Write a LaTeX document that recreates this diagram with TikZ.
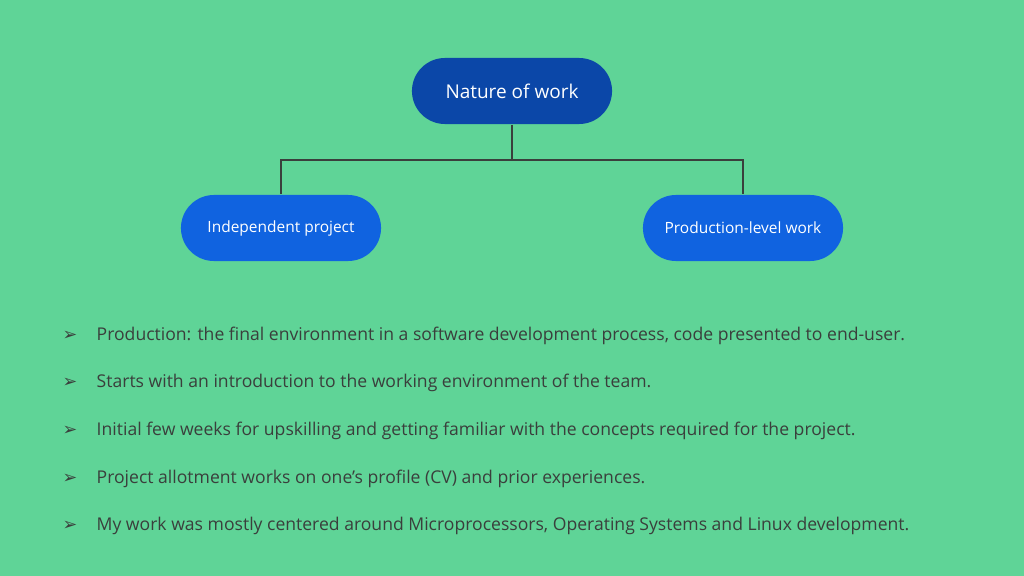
\documentclass[tikz,border=0pt]{standalone}
\usepackage{fontspec}
\setmainfont{Open Sans}
\newfontfamily\symfont{DejaVu Sans}
\usetikzlibrary{positioning}
\definecolor{bgreen}{HTML}{5FD497}
\definecolor{topblue}{HTML}{0B47A8}
\definecolor{kidblue}{HTML}{1063E0}
\definecolor{txtgray}{HTML}{3A3F3C}
\tikzset{
  pill/.style={draw=none, rounded corners=0.33cm, minimum width=2cm,
    minimum height=0.66cm, text=white, inner sep=0pt},
  link/.style={draw=txtgray, line width=0.5pt},
  bullet/.style={anchor=west, text=txtgray, font=\fontsize{5}{6}\selectfont, inner sep=0pt}
}
\begin{document}
\begin{tikzpicture}[x=0.01cm,y=-0.01cm]
  \fill[bgreen] (0,0) rectangle (1024,576);
  \useasboundingbox (0,0) rectangle (1024,576);
  \node[pill, fill=topblue, font=\fontsize{5.4}{6}\selectfont] (nature) at (512,91) {Nature of work};
  \node[pill, fill=kidblue, font=\fontsize{4.4}{5}\selectfont] (indep) at (281,228) {Independent project};
  \node[pill, fill=kidblue, font=\fontsize{4.4}{5}\selectfont] (prod) at (743,228) {Production-level work};
  \coordinate (split) at (512,160);
  \draw[link] (nature.south) -- (split);
  \draw[link] (split) -| (indep.north);
  \draw[link] (split) -| (prod.north);
  \foreach \y/\t [count=\i] in {
    336/{Production: the final environment in a software development process, code presented to end-user.},
    383/{Starts with an introduction to the working environment of the team.},
    431/{Initial few weeks for upskilling and getting familiar with the concepts required for the project.},
    479/{Project allotment works on one’s profile (CV) and prior experiences.},
    526/{My work was mostly centered around Microprocessors, Operating Systems and Linux development.}} {
    \node[bullet] (mark\i) at (62,\y) {\symfont ➢};
    \node[bullet] (line\i) at (96,\y) {\t};
  }
\end{tikzpicture}
\end{document}
